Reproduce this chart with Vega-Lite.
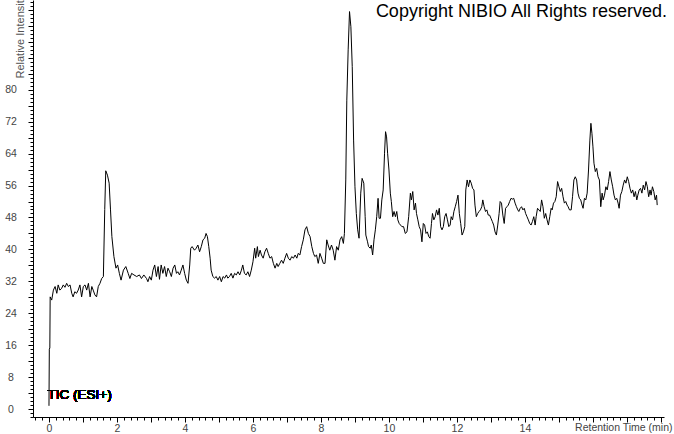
{
  "$schema": "https://vega.github.io/schema/vega-lite/v6.json",
  "width": 631,
  "height": 417,
  "autosize": {"type": "none"},
  "padding": {"left": 33, "top": 0, "right": 10, "bottom": 17},
  "background": "white",
  "config": {"font": "Liberation Sans", "view": {"stroke": null}},
  "title": {"text": "Copyright NIBIO All Rights reserved.", "anchor": "end", "frame": "group", "orient": "top", "offset": -41, "baseline": "alphabetic", "fontSize": 18, "font": "Liberation Sans", "fontWeight": "normal", "color": "black", "dx": 3},
  "data": {"values": [
{"t":0.00,"v":0.8},{"t":0.01,"v":15},{"t":0.025,"v":15.3},{"t":0.035,"v":28.1},{"t":0.08,"v":27.3},{"t":0.13,"v":29.8},{"t":0.18,"v":30.7},{"t":0.23,"v":29.0},{"t":0.27,"v":31.1},{"t":0.32,"v":29.8},{"t":0.37,"v":30.2},{"t":0.42,"v":31.1},{"t":0.47,"v":30.5},{"t":0.52,"v":31.5},{"t":0.57,"v":30.7},{"t":0.62,"v":31.1},{"t":0.67,"v":29.0},{"t":0.71,"v":28.1},{"t":0.76,"v":29.4},{"t":0.81,"v":29.0},{"t":0.86,"v":29.8},{"t":0.91,"v":31.1},{"t":0.96,"v":28.1},{"t":1.01,"v":30.7},{"t":1.06,"v":31.1},{"t":1.11,"v":29.8},{"t":1.16,"v":31.5},{"t":1.21,"v":28.1},{"t":1.26,"v":30.7},{"t":1.30,"v":29.8},{"t":1.35,"v":28.6},{"t":1.40,"v":28.1},{"t":1.45,"v":30.7},{"t":1.50,"v":31.5},{"t":1.55,"v":32.7},{"t":1.60,"v":33.2},{"t":1.64,"v":50},{"t":1.67,"v":59.7},{"t":1.72,"v":58.6},{"t":1.77,"v":56.6},{"t":1.81,"v":49.9},{"t":1.85,"v":43.2},{"t":1.91,"v":38.2},{"t":1.97,"v":35.3},{"t":2.02,"v":36.1},{"t":2.07,"v":34.0},{"t":2.12,"v":32.3},{"t":2.19,"v":34.8},{"t":2.26,"v":35.7},{"t":2.33,"v":34.0},{"t":2.38,"v":32.7},{"t":2.43,"v":34.0},{"t":2.50,"v":33.6},{"t":2.58,"v":33.2},{"t":2.66,"v":33.6},{"t":2.72,"v":32.7},{"t":2.79,"v":33.6},{"t":2.87,"v":32.7},{"t":2.91,"v":31.9},
{"t":2.96,"v":33.2},{"t":3.01,"v":32.3},{"t":3.06,"v":34.8},{"t":3.11,"v":36.1},{"t":3.16,"v":33.2},{"t":3.21,"v":35.7},{"t":3.25,"v":32.5},{"t":3.30,"v":36.1},{"t":3.35,"v":34.0},{"t":3.40,"v":35.7},{"t":3.45,"v":33.2},{"t":3.50,"v":35.3},{"t":3.55,"v":34.4},{"t":3.60,"v":33.2},{"t":3.65,"v":35.3},{"t":3.70,"v":36.1},{"t":3.75,"v":34.0},{"t":3.79,"v":34.4},{"t":3.84,"v":33.6},{"t":3.89,"v":34.8},{"t":3.94,"v":36.1},{"t":3.99,"v":34.0},{"t":4.04,"v":32.3},{"t":4.09,"v":31.5},{"t":4.14,"v":36.1},{"t":4.17,"v":40.3},{"t":4.21,"v":40.7},{"t":4.28,"v":39.8},{"t":4.33,"v":40.3},{"t":4.38,"v":41.1},{"t":4.43,"v":39.4},{"t":4.48,"v":40.7},{"t":4.53,"v":42.4},{"t":4.58,"v":42.8},{"t":4.62,"v":44.0},{"t":4.66,"v":43.2},{"t":4.70,"v":40.7},{"t":4.74,"v":37.8},{"t":4.77,"v":34.8},{"t":4.82,"v":33.2},{"t":4.87,"v":32.8},{"t":4.92,"v":33.2},{"t":4.97,"v":32.3},{"t":5.02,"v":33.2},{"t":5.07,"v":31.9},{"t":5.12,"v":33.2},{"t":5.17,"v":32.8},{"t":5.22,"v":33.6},{"t":5.26,"v":32.8},{"t":5.31,"v":33.2},{"t":5.36,"v":34.0},{"t":5.41,"v":32.8},{"t":5.46,"v":34.0},{"t":5.51,"v":33.6},{"t":5.56,"v":34.4},{"t":5.61,"v":33.6},{"t":5.66,"v":34.8},{"t":5.70,"v":36.1},{"t":5.75,"v":34.0},{"t":5.80,"v":33.6},{"t":5.85,"v":34.4},{"t":5.90,"v":33.2},{"t":5.95,"v":34.8},{"t":6.00,"v":36.9},{"t":6.05,"v":40.3},{"t":6.08,"v":37.8},{"t":6.13,"v":40.7},
{"t":6.16,"v":38.2},{"t":6.21,"v":39.8},{"t":6.25,"v":38.6},{"t":6.30,"v":37.8},{"t":6.35,"v":39.4},{"t":6.40,"v":40.3},{"t":6.45,"v":39.0},{"t":6.50,"v":37.8},{"t":6.55,"v":38.2},{"t":6.60,"v":36.5},{"t":6.65,"v":35.3},{"t":6.70,"v":36.5},{"t":6.74,"v":35.7},{"t":6.79,"v":36.5},{"t":6.84,"v":37.3},{"t":6.89,"v":36.5},{"t":6.94,"v":37.8},{"t":6.99,"v":39.0},{"t":7.04,"v":37.8},{"t":7.09,"v":37.3},{"t":7.14,"v":38.2},{"t":7.19,"v":37.8},{"t":7.24,"v":38.6},{"t":7.29,"v":37.8},{"t":7.33,"v":39.0},{"t":7.38,"v":38.6},{"t":7.43,"v":40.7},{"t":7.48,"v":42.4},{"t":7.53,"v":44.9},{"t":7.58,"v":45.7},{"t":7.63,"v":44.0},{"t":7.68,"v":43.2},{"t":7.73,"v":40.7},{"t":7.78,"v":39.0},{"t":7.82,"v":38.2},{"t":7.87,"v":38.6},{"t":7.92,"v":36.5},{"t":7.97,"v":39.0},{"t":8.02,"v":37.8},{"t":8.07,"v":36.5},{"t":8.12,"v":36.5},{"t":8.17,"v":42.4},{"t":8.21,"v":41.1},{"t":8.26,"v":39.8},{"t":8.31,"v":41.1},{"t":8.36,"v":39.8},{"t":8.41,"v":37.3},{"t":8.46,"v":40.7},{"t":8.51,"v":39.8},{"t":8.56,"v":42.4},{"t":8.61,"v":43.2},{"t":8.66,"v":41.5},{"t":8.69,"v":44.0},{"t":8.73,"v":57.4},{"t":8.76,"v":77.4},{"t":8.80,"v":90.0},{"t":8.84,"v":99.6},{"t":8.88,"v":95.8},{"t":8.92,"v":85.8},{"t":8.96,"v":67.4},{"t":9.00,"v":55.7},{"t":9.04,"v":49.0},{"t":9.08,"v":44.9},{"t":9.12,"v":42.8},{"t":9.17,"v":54.1},{"t":9.21,"v":57.8},{"t":9.26,"v":56.6},{"t":9.30,"v":48.2},{"t":9.32,"v":43.6},{"t":9.37,"v":41.9},{"t":9.40,"v":40.7},{"t":9.45,"v":40.3},{"t":9.48,"v":41.1},{"t":9.52,"v":38.6},{"t":9.56,"v":42.4},{"t":9.60,"v":44.9},{"t":9.64,"v":48.2},{"t":9.68,"v":52.8},{"t":9.71,"v":47.8},{"t":9.75,"v":47.8},{"t":9.79,"v":52.4},{"t":9.83,"v":54.9},{"t":9.87,"v":64.1},{"t":9.90,"v":69.5},{"t":9.93,"v":68.2},{"t":9.96,"v":64.1},{"t":10.00,"v":59.9},{"t":10.04,"v":54.1},{"t":10.07,"v":52.0},{"t":10.11,"v":48.2},{"t":10.15,"v":49.5},{"t":10.19,"v":48.2},{"t":10.23,"v":49.5},{"t":10.26,"v":47.4},{"t":10.30,"v":46.5},{"t":10.34,"v":46.1},{"t":10.38,"v":45.7},{"t":10.43,"v":45.7},{"t":10.48,"v":44.0},{"t":10.53,"v":44.4},{"t":10.58,"v":48.2},{"t":10.63,"v":54.1},{"t":10.66,"v":52.4},{"t":10.70,"v":54.5},{"t":10.74,"v":49.9},{"t":10.78,"v":51.6},{"t":10.81,"v":49.0},{"t":10.85,"v":47.4},{"t":10.89,"v":45.7},{"t":10.93,"v":44.9},{"t":10.97,"v":41.9},{"t":11.01,"v":46.5},{"t":11.05,"v":46.1},{"t":11.09,"v":44.0},{"t":11.13,"v":44.4},{"t":11.17,"v":43.2},{"t":11.21,"v":42.8},{"t":11.25,"v":46.5},{"t":11.28,"v":49.0},{"t":11.32,"v":47.4},{"t":11.36,"v":48.2},{"t":11.40,"v":49.9},{"t":11.44,"v":48.6},{"t":11.48,"v":50.3},{"t":11.52,"v":45.7},{"t":11.56,"v":44.9},{"t":11.60,"v":45.7},{"t":11.64,"v":48.2},{"t":11.68,"v":49.0},{"t":11.72,"v":47.4},{"t":11.76,"v":45.7},{"t":11.80,"v":46.1},{"t":11.83,"v":48.2},{"t":11.87,"v":47.4},{"t":11.91,"v":49.5},{"t":11.95,"v":50.7},{"t":11.99,"v":52.0},{"t":12.03,"v":53.6},{"t":12.07,"v":49.0},{"t":12.11,"v":46.5},{"t":12.15,"v":43.6},{"t":12.19,"v":44.4},{"t":12.23,"v":45.7},{"t":12.26,"v":54.9},{"t":12.30,"v":57.4},{"t":12.34,"v":55.7},{"t":12.38,"v":57.4},{"t":12.42,"v":56.6},{"t":12.46,"v":55.3},{"t":12.50,"v":54.9},{"t":12.53,"v":51.1},{"t":12.57,"v":48.2},{"t":12.61,"v":49.0},{"t":12.65,"v":49.5},{"t":12.69,"v":49.9},{"t":12.73,"v":50.7},{"t":12.76,"v":52.4},{"t":12.80,"v":50.7},{"t":12.84,"v":49.5},{"t":12.88,"v":49.9},{"t":12.92,"v":48.6},{"t":12.96,"v":48.6},{"t":13.00,"v":47.8},{"t":13.04,"v":47.0},{"t":13.08,"v":46.1},{"t":13.12,"v":44.4},{"t":13.16,"v":43.6},{"t":13.20,"v":46.1},{"t":13.24,"v":49.0},{"t":13.27,"v":52.0},{"t":13.31,"v":51.6},{"t":13.35,"v":48.6},{"t":13.39,"v":46.5},{"t":13.43,"v":50.3},{"t":13.47,"v":50.7},{"t":13.51,"v":51.1},{"t":13.55,"v":52.0},{"t":13.59,"v":52.8},{"t":13.63,"v":52.6},{"t":13.67,"v":52.8},{"t":13.71,"v":51.6},{"t":13.75,"v":50.7},{"t":13.79,"v":49.9},{"t":13.82,"v":49.5},{"t":13.86,"v":50.3},{"t":13.90,"v":50.7},{"t":13.94,"v":49.9},{"t":13.98,"v":50.3},{"t":14.02,"v":49.0},{"t":14.06,"v":48.2},{"t":14.10,"v":47.4},{"t":14.14,"v":46.5},{"t":14.18,"v":46.1},{"t":14.22,"v":47.0},{"t":14.26,"v":48.2},{"t":14.30,"v":46.1},{"t":14.33,"v":48.2},{"t":14.37,"v":50.3},{"t":14.41,"v":49.9},{"t":14.45,"v":49.5},{"t":14.49,"v":52.4},{"t":14.53,"v":50.7},{"t":14.57,"v":47.8},{"t":14.61,"v":49.0},{"t":14.65,"v":47.4},{"t":14.69,"v":46.1},{"t":14.73,"v":48.2},{"t":14.77,"v":50.3},{"t":14.80,"v":49.9},{"t":14.84,"v":51.6},{"t":14.88,"v":52.0},{"t":14.92,"v":53.2},{"t":14.96,"v":57.0},{"t":15.00,"v":55.7},{"t":15.04,"v":54.5},{"t":15.08,"v":55.3},{"t":15.12,"v":53.2},{"t":15.16,"v":51.6},{"t":15.20,"v":52.0},{"t":15.24,"v":51.1},{"t":15.27,"v":50.7},{"t":15.31,"v":49.9},{"t":15.36,"v":49.9},{"t":15.40,"v":53.2},{"t":15.44,"v":57.4},{"t":15.48,"v":58.2},{"t":15.52,"v":57.4},{"t":15.56,"v":54.1},{"t":15.60,"v":52.8},{"t":15.64,"v":52.4},{"t":15.68,"v":51.1},{"t":15.71,"v":50.3},{"t":15.75,"v":52.8},{"t":15.79,"v":52.4},{"t":15.83,"v":54.1},{"t":15.87,"v":59.9},{"t":15.91,"v":67.4},{"t":15.94,"v":71.6},{"t":15.97,"v":69.1},{"t":16.00,"v":65.7},{"t":16.03,"v":61.6},{"t":16.07,"v":59.5},{"t":16.11,"v":60.3},{"t":16.15,"v":58.2},{"t":16.19,"v":57.4},{"t":16.23,"v":50.7},{"t":16.27,"v":54.1},{"t":16.30,"v":52.4},{"t":16.34,"v":53.6},{"t":16.38,"v":55.7},{"t":16.42,"v":54.9},{"t":16.46,"v":57.0},{"t":16.50,"v":59.5},{"t":16.54,"v":57.4},{"t":16.58,"v":55.7},{"t":16.62,"v":53.6},{"t":16.66,"v":52.4},{"t":16.70,"v":52.8},{"t":16.74,"v":51.6},{"t":16.77,"v":50.3},{"t":16.81,"v":53.6},{"t":16.85,"v":54.5},{"t":16.89,"v":56.1},{"t":16.93,"v":57.4},{"t":16.97,"v":56.6},{"t":17.01,"v":58.2},{"t":17.05,"v":57.0},{"t":17.09,"v":55.3},{"t":17.13,"v":54.1},{"t":17.17,"v":54.9},{"t":17.21,"v":53.2},{"t":17.25,"v":54.5},{"t":17.29,"v":52.4},{"t":17.32,"v":53.6},{"t":17.36,"v":54.9},{"t":17.40,"v":55.3},{"t":17.44,"v":54.1},{"t":17.48,"v":56.1},{"t":17.52,"v":54.9},{"t":17.56,"v":57.0},{"t":17.60,"v":55.7},{"t":17.64,"v":53.2},{"t":17.68,"v":54.9},{"t":17.71,"v":53.6},{"t":17.75,"v":55.7},{"t":17.79,"v":54.5},{"t":17.83,"v":52.4},{"t":17.87,"v":53.6},{"t":17.89,"v":51.1}
  ]},
  "layer": [
    {
      "mark": {"type": "line", "color": "black", "strokeWidth": 1, "interpolate": "linear"},
      "encoding": {
        "x": {"field": "t", "type": "quantitative",
          "scale": {"domain": [-0.47, 18.09], "nice": false, "zero": false},
          "axis": {"orient": "bottom", "values": [0,1,2,3,4,5,6,7,8,9,10,11,12,13,14,15,16,17,18], "grid": false, "domain": true, "domainColor": "black", "tickColor": "black", "tickSize": 5, "labelExpr": "(datum.value % 2 == 0 && datum.value <= 14) ? datum.label : ''", "labelFontSize": 10.5, "labelColor": "#444444", "labelFont": "Liberation Sans", "labelPadding": 1, "labelOverlap": false, "labelFlush": false, "labelBound": false,
            "title": "Retention Time (min)", "titleX": 639, "titleY": 13, "titleAlign": "right", "titleBaseline": "alphabetic", "titleFontSize": 10.5, "titleFontWeight": "normal", "titleColor": "#444444", "titleFont": "Liberation Sans"}},
        "y": {"field": "v", "type": "quantitative",
          "scale": {"domain": [-2, 102.5], "nice": false, "zero": false},
          "axis": {"orient": "left", "values": [0,4,8,12,16,20,24,28,32,36,40,44,48,52,56,60,64,68,72,76,80,84,88,92,96,100], "grid": false, "domain": true, "domainColor": "black", "tickColor": "black", "tickSize": 5, "labelExpr": "(datum.value % 8 == 0 && datum.value <= 80) ? datum.label : ''", "labelFontSize": 10.5, "labelColor": "#444444", "labelFont": "Liberation Sans", "labelAlign": "center", "labelBaseline": "middle", "labelPadding": 17.5, "labelOverlap": false, "labelFlush": false, "labelBound": false,
            "title": "Relative Intensity", "titleAngle": 270, "titleX": -10, "titleY": 78, "titleAlign": "left", "titleBaseline": "alphabetic", "titleFontSize": 11, "titleFontWeight": "normal", "titleColor": "#555555", "titleFont": "Liberation Sans"}}
      }
    },
    {
      "mark": {"type": "line", "opacity": 0},
      "encoding": {
        "x": {"field": "t", "type": "quantitative",
          "axis": {"orient": "bottom", "values": [-0.4,-0.2,0,0.2,0.4,0.6,0.8,1,1.2,1.4,1.6,1.8,2,2.2,2.4,2.6,2.8,3,3.2,3.4,3.6,3.8,4,4.2,4.4,4.6,4.8,5,5.2,5.4,5.6,5.8,6,6.2,6.4,6.6,6.8,7,7.2,7.4,7.6,7.8,8,8.2,8.4,8.6,8.8,9,9.2,9.4,9.6,9.8,10,10.2,10.4,10.6,10.8,11,11.2,11.4,11.6,11.8,12,12.2,12.4,12.6,12.8,13,13.2,13.4,13.6,13.8,14,14.2,14.4,14.6,14.8,15,15.2,15.4,15.6,15.8,16,16.2,16.4,16.6,16.8,17,17.2,17.4,17.6,17.8,18], "grid": false, "domain": false, "tickColor": "black", "tickSize": 3, "labels": false, "title": null}},
        "y": {"field": "v", "type": "quantitative",
          "axis": {"orient": "left", "values": [-2,-1,0,1,2,3,4,5,6,7,8,9,10,11,12,13,14,15,16,17,18,19,20,21,22,23,24,25,26,27,28,29,30,31,32,33,34,35,36,37,38,39,40,41,42,43,44,45,46,47,48,49,50,51,52,53,54,55,56,57,58,59,60,61,62,63,64,65,66,67,68,69,70,71,72,73,74,75,76,77,78,79,80,81,82,83,84,85,86,87,88,89,90,91,92,93,94,95,96,97,98,99,100,101,102], "grid": false, "domain": false, "tickColor": "black", "tickSize": 3, "labels": false, "title": null}}
      }
    },
    {
      "mark": {"type": "text", "align": "left", "baseline": "alphabetic", "fontSize": 13.5, "font": "Liberation Sans", "color": "black"},
      "encoding": {
        "x": {"datum": -0.04, "type": "quantitative", "axis": null},
        "y": {"datum": 2.5, "type": "quantitative", "axis": null},
        "text": {"value": "TIC (ESI+)"}
      }
    }
  ],
  "resolve": {"axis": {"x": "independent", "y": "independent"}}
}
